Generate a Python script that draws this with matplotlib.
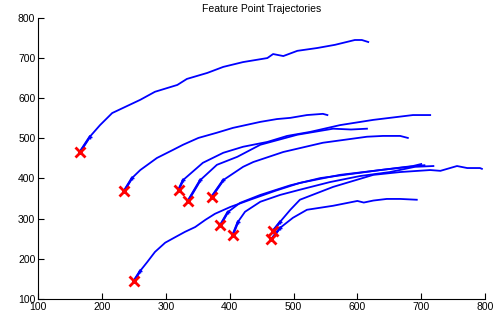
import matplotlib.pyplot as plt

plt.rcParams['font.family'] = ['Liberation Sans', 'DejaVu Sans']

# ---- trajectories (data coords), first point = start
t1_x = [165, 181, 197, 216, 236, 260, 283, 318, 333, 365, 390, 421, 459, 468, 484, 506, 537, 565, 596, 607, 617]
t1_y = [465, 504, 533, 563, 578, 596, 616, 633, 648, 663, 678, 690, 700, 710, 705, 718, 725, 733, 745, 745, 740]

t2_x = [235, 247, 260, 286, 311, 327, 351, 380, 405, 448, 474, 495, 521, 546, 553]
t2_y = [370, 401, 421, 451, 471, 484, 501, 514, 526, 541, 548, 551, 558, 561, 558]

t3_x = [320, 327, 358, 390, 421, 459, 490, 526, 573, 625, 687, 714]
t3_y = [372, 396, 439, 464, 479, 491, 506, 516, 533, 546, 558, 558]

t4_x = [335, 354, 380, 412, 448, 506, 562, 590, 615]
t4_y = [345, 396, 434, 454, 484, 509, 524, 522, 524]

t5_x = [372, 390, 421, 437, 484, 546, 615, 640, 667, 679]
t5_y = [355, 396, 429, 441, 466, 489, 504, 506, 506, 501]

t6_x = [385, 397, 416, 448, 495, 542, 589, 636, 675, 705]
t6_y = [283, 316, 339, 359, 383, 401, 411, 421, 428, 433]

t7_x = [405, 413, 424, 448, 479, 510, 557, 604, 651, 690, 719]
t7_y = [260, 292, 317, 342, 359, 372, 391, 406, 416, 429, 431]

t8_x = [468, 479, 495, 510, 562, 625, 667, 714, 730, 756, 772, 792, 795]
t8_y = [270, 292, 322, 347, 379, 409, 416, 421, 419, 431, 426, 426, 424]

t9_x = [465, 479, 499, 521, 562, 600, 610, 625, 646, 667, 693]
t9_y = [248, 277, 302, 322, 332, 344, 340, 345, 349, 349, 347]

t10_x = [250, 260, 271, 283, 299, 315, 330, 346, 362, 377, 401, 432, 471, 510, 573, 636, 687, 700]
t10_y = [145, 170, 192, 217, 240, 254, 267, 279, 297, 312, 329, 347, 369, 389, 409, 421, 431, 436]

trajs = [(t1_x, t1_y), (t2_x, t2_y), (t3_x, t3_y), (t4_x, t4_y), (t5_x, t5_y),
         (t6_x, t6_y), (t7_x, t7_y), (t8_x, t8_y), (t9_x, t9_y), (t10_x, t10_y)]

fig = plt.figure(figsize=(4.95, 3.2), dpi=100)
ax = fig.add_axes([0.077, 0.066, 0.903, 0.878])

for xs, ys in trajs:
    ax.plot(xs, ys, color='#0000ff', lw=1.3, solid_joinstyle='round')
    # short marker-heavy stub near the start
    ax.plot(xs[:2], ys[:2], color='#0000ff', lw=1.8, marker='+', ms=3, mew=1)

start_x = [xs[0] for xs, ys in trajs]
start_y = [ys[0] for xs, ys in trajs]
ax.plot(start_x, start_y, 'x', color='#ff0000', ms=6.5, mew=2, zorder=5)

ax.set_xlim(100, 800)
ax.set_ylim(100, 800)
ax.set_xticks(range(100, 801, 100))
ax.set_yticks(range(100, 801, 100))
ax.spines['top'].set_visible(False)
ax.spines['right'].set_visible(False)
ax.tick_params(direction='in', length=4, width=0.8, labelsize=7.5, pad=2)
ax.set_title('Feature Point Trajectories', fontsize=7.5, pad=4)

fig.savefig('out.png', dpi=100)
